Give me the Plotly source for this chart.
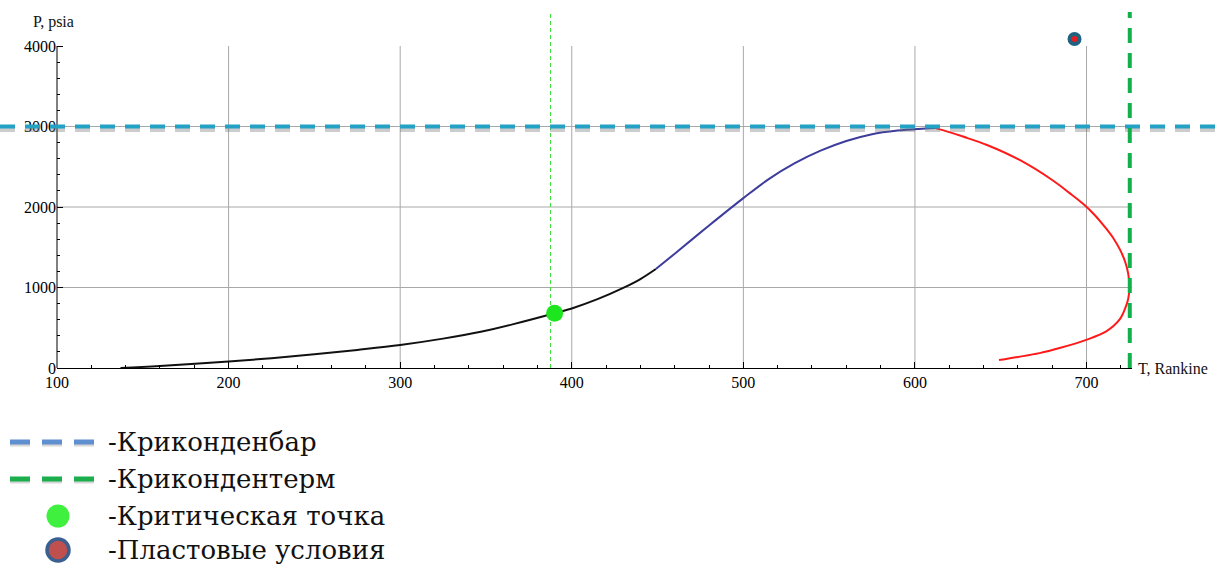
import plotly.graph_objects as go

# ---------------- data ----------------
# two-phase envelope, T in Rankine, P in psia
bubble_T = [137, 160, 200, 225, 250, 275, 300, 325, 347, 366, 390, 400, 415, 430, 440, 449]
bubble_P = [0, 25, 80, 122, 170, 225, 286, 365, 450, 545, 680, 740, 855, 995, 1105, 1230]

mid_T = [449, 460, 480, 500, 515, 530, 545, 560, 575, 590, 602, 612]
mid_P = [1230, 1420, 1770, 2110, 2350, 2545, 2700, 2820, 2905, 2950, 2970, 2980]

dew_T = [612, 620, 628, 642, 661, 680, 690, 698, 705, 711.5, 716, 719.5, 722.5, 724.3, 725, 724.3,
         722.5, 719.2, 711.5, 699.8, 684.3, 672.6, 660, 649]
dew_P = [2980, 2930, 2875, 2770, 2584, 2335, 2175, 2040, 1895, 1730, 1600, 1470, 1320, 1170, 1010, 860,
         740, 600, 455, 350, 248, 185, 137, 99]

critical_T = [390]
critical_P = [680]

reservoir_T = [693]
reservoir_P = [4087]

cricondenbar_P = 3000
cricondentherm_T = 725.2
critical_line_T = 387.6

x_ticks = [100, 200, 300, 400, 500, 600, 700]
y_ticks = [0, 1000, 2000, 3000, 4000]
y_minor = [v for v in range(200, 4000, 200) if v % 1000 != 0]
y_grid = [1000, 2000, 3000]
y_axis_top = 4000

legend_labels = ["-Криконденбар", "-Крикондентерм", "-Критическая точка", "-Пластовые условия"]

# ---------------- layout geometry ----------------
W, H = 1217, 565
ML, MR, MT, MB = 57, 85, 8, 197
PW, PH = W - ML - MR, H - MT - MB
TOP_4000_PX = 46  # pixel row where the axis ends
y_max = y_axis_top * PH / (H - MB - TOP_4000_PX)


def px_x(px):
    return (px - ML) / PW


def px_y(py):
    return (H - MB - py) / PH


SERIF = "Liberation Serif"

fig = go.Figure()

fig.add_trace(go.Scatter(x=bubble_T, y=bubble_P, mode="lines",
                         line=dict(color="#111111", width=2, shape="spline", smoothing=1.0),
                         hoverinfo="skip"))
fig.add_trace(go.Scatter(x=mid_T, y=mid_P, mode="lines",
                         line=dict(color="#3d3d9c", width=2, shape="spline", smoothing=1.0),
                         hoverinfo="skip"))
fig.add_trace(go.Scatter(x=dew_T, y=dew_P, mode="lines",
                         line=dict(color="#ff1a1a", width=2, shape="spline", smoothing=1.0),
                         hoverinfo="skip"))
fig.add_trace(go.Scatter(x=critical_T, y=critical_P, mode="markers",
                         marker=dict(color="#1ee61e", size=17, line=dict(width=0)),
                         hoverinfo="skip"))
fig.add_trace(go.Scatter(x=reservoir_T, y=reservoir_P, mode="markers",
                         marker=dict(color="#e02020", size=10, line=dict(width=4, color="#1f6282")),
                         hoverinfo="skip"))

shapes = []
# grid lines (stop at the 4000 psia axis end)
for g in y_grid:
    shapes.append(dict(type="line", xref="paper", yref="y", x0=0, x1=1, y0=g, y1=g,
                       line=dict(color="#a8a8a8", width=1), layer="below"))
for g in x_ticks[1:]:
    shapes.append(dict(type="line", xref="x", yref="y", x0=g, x1=g, y0=0, y1=y_axis_top,
                       line=dict(color="#a8a8a8", width=1), layer="below"))
# y axis line
shapes.append(dict(type="line", xref="paper", yref="y", x0=0, x1=0, y0=0, y1=y_axis_top,
                   line=dict(color="black", width=1)))
# thin critical-temperature line
shapes.append(dict(type="line", xref="x", yref="paper", x0=critical_line_T, x1=critical_line_T,
                   y0=0, y1=px_y(12), line=dict(color="#3ee03e", width=1, dash="4px,3px"),
                   layer="below"))
# cricondenbar shadow + line
shapes.append(dict(type="line", xref="paper", yref="y", x0=px_x(0), x1=px_x(W),
                   ysizemode="pixel", yanchor=cricondenbar_P, y0=-3, y1=-3,
                   line=dict(color="rgba(110,110,110,0.35)", width=5, dash="15px,10px")))
shapes.append(dict(type="line", xref="paper", yref="y", x0=px_x(0), x1=px_x(W),
                   y0=cricondenbar_P, y1=cricondenbar_P,
                   line=dict(color="#24a2c6", width=4, dash="15px,10px")))
# cricondentherm line
shapes.append(dict(type="line", xref="x", yref="paper", x0=cricondentherm_T, x1=cricondentherm_T,
                   y0=0, y1=px_y(12), line=dict(color="#12b04a", width=4, dash="15px,10px")))

# ---------------- custom legend ----------------
leg_y = [442, 479, 516, 550]
for yy, col in [(leg_y[0], "#5f8fd0"), (leg_y[1], "#1aae4c")]:
    shapes.append(dict(type="line", xref="paper", yref="paper", x0=px_x(10), x1=px_x(94),
                       y0=px_y(yy + 2), y1=px_y(yy + 2),
                       line=dict(color="rgba(120,120,120,0.3)", width=5, dash="20px,12px")))
    shapes.append(dict(type="line", xref="paper", yref="paper", x0=px_x(10), x1=px_x(94),
                       y0=px_y(yy), y1=px_y(yy),
                       line=dict(color=col, width=5, dash="20px,12px")))
shapes.append(dict(type="circle", xref="paper", yref="paper", xsizemode="pixel", ysizemode="pixel",
                   xanchor=px_x(58), yanchor=px_y(leg_y[2]), x0=-11.5, x1=11.5, y0=-11.5, y1=11.5,
                   fillcolor="#3ff03f", line=dict(width=0)))
shapes.append(dict(type="circle", xref="paper", yref="paper", xsizemode="pixel", ysizemode="pixel",
                   xanchor=px_x(58), yanchor=px_y(leg_y[3]), x0=-11, x1=11, y0=-11, y1=11,
                   fillcolor="#c0504d", line=dict(width=3.5, color="#3b5f8f")))

annotations = []
for yy, txt in zip(leg_y, legend_labels):
    annotations.append(dict(xref="paper", yref="paper", x=px_x(106), y=px_y(yy),
                            xanchor="left", yanchor="middle", text=txt, showarrow=False,
                            font=dict(family="DejaVu Serif", size=26, color="#111111")))

# axis titles
annotations.append(dict(xref="paper", yref="y", x=0, y=y_axis_top, xshift=-4, yshift=24,
                        xanchor="center", yanchor="middle", text="P, psia", showarrow=False,
                        font=dict(family=SERIF, size=16, color="#111111")))
annotations.append(dict(xref="paper", yref="paper", x=1, y=0, xshift=4,
                        xanchor="left", yanchor="middle", text="T, Rankine", showarrow=False,
                        font=dict(family=SERIF, size=16, color="#111111")))

fig.update_layout(
    width=W, height=H,
    margin=dict(l=ML, r=MR, t=MT, b=MB, pad=0),
    paper_bgcolor="white", plot_bgcolor="white",
    showlegend=False,
    shapes=shapes,
    annotations=annotations,
    xaxis=dict(range=[100, 726.5], tickvals=x_ticks, ticks="inside", ticklen=6, tickcolor="black",
               showline=True, linecolor="black", linewidth=1,
               showgrid=False, zeroline=False,
               minor=dict(dtick=20, ticks="inside", ticklen=3, tickcolor="black", showgrid=False),
               tickfont=dict(family=SERIF, size=16, color="black")),
    yaxis=dict(range=[0, y_max], tickvals=y_ticks, ticks="inside", ticklen=6, tickcolor="black",
               showline=False, showgrid=False, zeroline=False,
               minor=dict(tickvals=y_minor, ticks="inside", ticklen=3, tickcolor="black", showgrid=False),
               tickfont=dict(family=SERIF, size=16, color="black")),
)

fig.write_html("out.html")
